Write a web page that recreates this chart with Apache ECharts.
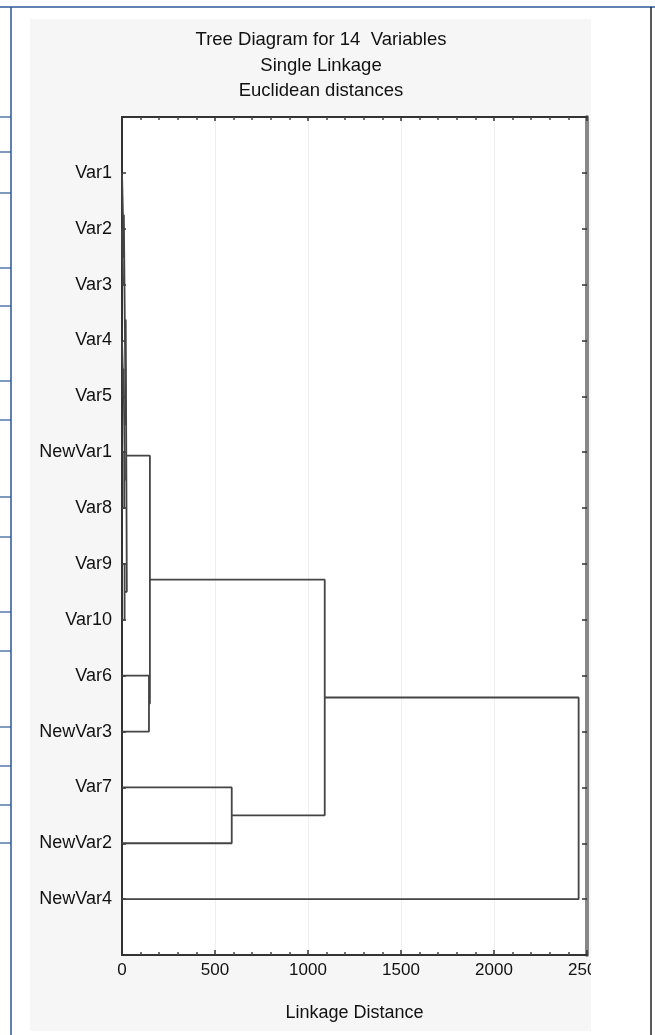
<!DOCTYPE html>
<html>
<head>
<meta charset="utf-8">
<script src="https://cdn.jsdelivr.net/npm/echarts@6/dist/echarts.min.js"></script>
<style>html,body{margin:0;padding:0;background:#fff;}#c{width:655px;height:1035px;}</style>
</head>
<body>
<div id="c"></div>
<script>
// Leaf order (top to bottom)
const leaves = ['Var1','Var2','Var3','Var4','Var5','NewVar1','Var8','Var9','Var10','Var6','NewVar3','Var7','NewVar2','NewVar4'];
// Merge steps: [childA, childB, linkage distance]; leaves are 'L<index>', clusters are 'C<index>'
const mergeA = ['L1','L0','L3','L5','C2','C1','L7','C5','L9','C7','L11','C9','C11'];
const mergeB = ['L2','C0','L4','L6','C3','C4','L8','C6','L10','C8','L12','C10','L13'];
const mergeDist = [6, 10, 8, 12, 16, 20, 14, 26, 145, 150, 590, 1090, 2455];
const xTicks = [0, 500, 1000, 1500, 2000, 2500];
const titleLines = ['Tree Diagram for 14  Variables', 'Single Linkage', 'Euclidean distances'];
const xName = 'Linkage Distance';

function node(id, clusters){
  if (id[0] === 'L') { const i = +id.slice(1); return {pos: i + 1, h: 0}; }
  return clusters[+id.slice(1)];
}
const clusters = [];
const series = [];
for (let k = 0; k < mergeDist.length; k++){
  const a = node(mergeA[k], clusters), b = node(mergeB[k], clusters), d = mergeDist[k];
  clusters.push({pos: (a.pos + b.pos) / 2, h: d});
  series.push({
    type: 'line', xAxisIndex: 0, yAxisIndex: 0, symbol: 'none', animation: false, silent: true,
    lineStyle: {color: '#444', width: 1.8},
    data: [[a.h, a.pos], [d, a.pos], [d, b.pos], [b.h, b.pos]]
  });
}

const chart = echarts.init(document.getElementById('c'), null, {renderer: 'canvas'});
const leftRows = [117, 152, 193, 268, 306, 381, 420, 497, 537, 612, 651, 727, 766, 805, 843];
const graphics = [
  {type: 'rect', z: -10, shape: {x: 30, y: 19, width: 561, height: 1012}, style: {fill: '#f6f6f6'}},
  {type: 'line', z: 10, shape: {x1: 0, y1: 7, x2: 655, y2: 7}, style: {stroke: '#2b5797', lineWidth: 1.5}},
  {type: 'line', z: 10, shape: {x1: 11, y1: 7, x2: 11, y2: 1035}, style: {stroke: '#2b5797', lineWidth: 1.5}},
  {type: 'line', z: 10, shape: {x1: 651, y1: 7, x2: 651, y2: 1035}, style: {stroke: '#222', lineWidth: 1.5}},
  {type: 'rect', z: 20, shape: {x: 591, y: 940, width: 59, height: 60}, style: {fill: '#fff'}}
];
leftRows.forEach(y => graphics.push({type: 'line', z: 10, shape: {x1: 0, y1: y, x2: 11, y2: y}, style: {stroke: '#2b5797', lineWidth: 1.2}}));
const titleY = [40, 66, 91];
titleLines.forEach((t, i) => graphics.push({type: 'text', z: 10, x: 321, y: titleY[i],
  style: {text: t, font: '18.5px "Liberation Sans", Arial, sans-serif', fill: '#111', textAlign: 'center', textVerticalAlign: 'middle'}}));

const xBase = {
  type: 'value', min: xTicks[0], max: xTicks[xTicks.length - 1], interval: 500,
  splitLine: {show: false}
};
const yBase = {type: 'value', min: 0, max: leaves.length + 1, interval: 1, inverse: true, splitLine: {show: false}};

chart.setOption({
  backgroundColor: 'transparent',
  animation: false,
  grid: {left: 122, right: 68, top: 117, bottom: 80, show: true, backgroundColor: '#fff', borderWidth: 0},
  graphic: graphics,
  xAxis: [
    Object.assign({}, xBase, {
      position: 'bottom', name: xName, nameLocation: 'middle', nameGap: 49,
      nameTextStyle: {fontSize: 18, color: '#111', fontFamily: 'Liberation Sans'},
      axisLine: {show: true, onZero: false, lineStyle: {color: '#333', width: 2}},
      axisTick: {show: true, inside: true, length: 5, lineStyle: {color: '#333', width: 1.5}},
      minorTick: {show: true, splitNumber: 5, length: 3, lineStyle: {color: '#444', width: 1.5}},
      splitLine: {show: true, lineStyle: {color: '#efefef', width: 1}},
      axisLabel: {fontSize: 17, color: '#111', margin: 7, fontFamily: 'Liberation Sans', formatter: v => String(v)}
    }),
    Object.assign({}, xBase, {
      position: 'top',
      axisLine: {show: true, onZero: false, lineStyle: {color: '#333', width: 2}},
      axisTick: {show: true, inside: true, length: 4, lineStyle: {color: '#333', width: 1.5}},
      minorTick: {show: true, splitNumber: 5, length: 3, lineStyle: {color: '#444', width: 1.5}},
      axisLabel: {show: false}
    })
  ],
  yAxis: [
    Object.assign({}, yBase, {
      position: 'left',
      axisLine: {show: true, onZero: false, lineStyle: {color: '#333', width: 2}},
      axisTick: {show: true, inside: true, length: 4, lineStyle: {color: '#333', width: 1.5}},
      axisLabel: {fontSize: 18, color: '#111', margin: 10, fontFamily: 'Liberation Sans',
        formatter: v => (v >= 1 && v <= leaves.length) ? leaves[v - 1] : ''}
    }),
    Object.assign({}, yBase, {
      position: 'right',
      axisLine: {show: true, onZero: false, lineStyle: {color: '#888', width: 4}},
      axisTick: {show: true, inside: true, length: 5, lineStyle: {color: '#333', width: 1.5}},
      axisLabel: {show: false}
    })
  ],
  series: series
});
</script>
</body>
</html>
